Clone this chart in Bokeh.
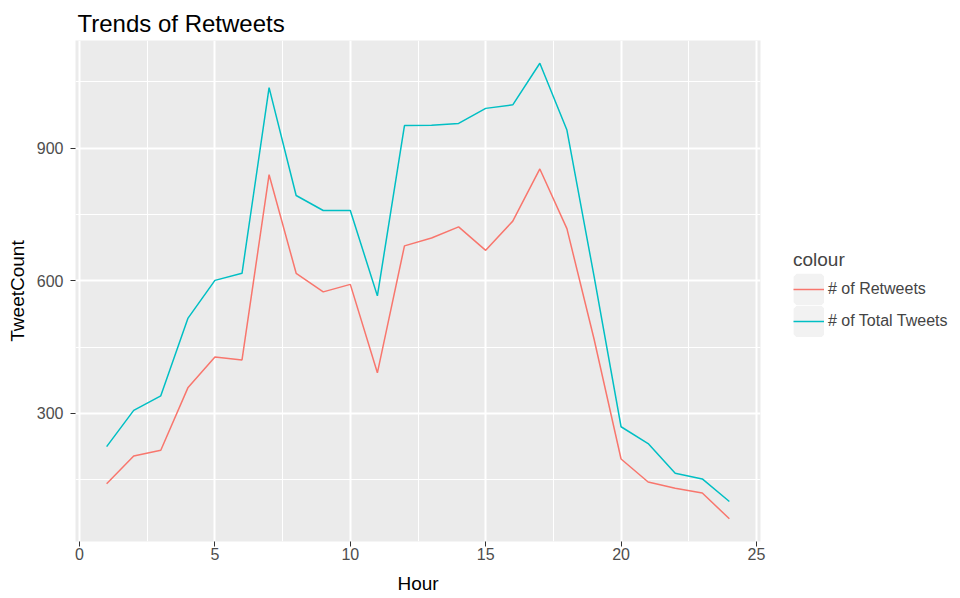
import numpy as np
from bokeh.plotting import figure
from bokeh.models import Range1d, FixedTicker, Legend, LegendItem, ColumnDataSource
from bokeh.embed import file_html
from bokeh.resources import INLINE

# ---- data ----
hours = list(range(1, 25))
retweets = [141, 204, 217, 358, 428, 421, 840, 617, 575, 592, 392, 679,
            697, 722, 669, 735, 853, 718, 469, 197, 145, 131, 120, 62]
total_tweets = [225, 307, 340, 515, 601, 617, 1037, 793, 759, 759, 566, 951,
                952, 956, 990, 998, 1092, 941, 611, 270, 232, 165, 152, 101]
series_names = ["# of Retweets", "# of Total Tweets"]
series_colors = ["#F8766D", "#00BFC4"]
x_ticks = [0, 5, 10, 15, 20, 25]
x_minor = [2.5, 7.5, 12.5, 17.5, 22.5]
y_ticks = [300, 600, 900]
y_minor = [150, 450, 750, 1050]

FONT = "Liberation Sans"


def expand(lo, hi, f=0.05):
    r = hi - lo
    return lo - f * r, hi + f * r


x0, x1 = expand(min(hours), max(hours))
allv = retweets + total_tweets
y0, y1 = expand(min(allv), max(allv))

FW, FH = 685, 501
p = figure(frame_width=FW, frame_height=FH, output_backend="svg", toolbar_location=None,
           x_range=Range1d(x0, x1), y_range=Range1d(y0, y1),
           min_border_left=75, min_border_right=200, min_border_top=40,
           min_border_bottom=57)

p.background_fill_color = "#EBEBEB"
p.border_fill_color = "white"
p.outline_line_color = None

p.title.text = "Trends of Retweets"
p.title.text_font = FONT
p.title.text_font_size = "24px"
p.title.text_font_style = "normal"
p.title.text_color = "black"
p.title.align = "left"
p.title.offset = 2
p.title.standoff = 8

p.xaxis.ticker = FixedTicker(ticks=x_ticks, minor_ticks=x_minor)
p.yaxis.ticker = FixedTicker(ticks=y_ticks, minor_ticks=y_minor)
p.xaxis.axis_label = "Hour"
p.yaxis.axis_label = "TweetCount"
for ax in (p.xaxis, p.yaxis):
    ax.axis_line_color = None
    ax.major_tick_line_color = "#333333"
    ax.major_tick_out = 5
    ax.major_tick_in = 0
    ax.minor_tick_line_color = None
    ax.major_label_text_font = FONT
    ax.major_label_text_font_size = "16px"
    ax.major_label_text_color = "#4D4D4D"
    ax.axis_label_text_font = FONT
    ax.axis_label_text_font_size = "19px"
    ax.axis_label_text_font_style = "normal"
    ax.axis_label_text_color = "black"
p.yaxis.major_label_standoff = 7
p.yaxis.axis_label_standoff = 6
p.xaxis.major_label_standoff = 1
p.xaxis.axis_label_standoff = 10

for g in (p.xgrid, p.ygrid):
    g.grid_line_color = "white"
    g.grid_line_width = 2
    g.minor_grid_line_color = "white"
    g.minor_grid_line_width = 1

# legend key background (not drawn in the plot: NaN position)
key_src = ColumnDataSource(dict(x=np.array([np.nan]), y=np.array([np.nan])))
key_bg = p.rect(x="x", y="y", width=1, height=1, source=key_src,
                fill_color="#F2F2F2", line_color="#F2F2F2", line_width=6)

r1 = p.line(hours, retweets, line_color=series_colors[0], line_width=1.5)
r2 = p.line(hours, total_tweets, line_color=series_colors[1], line_width=1.5)

PAD = 13
legend = Legend(items=[LegendItem(label=series_names[0], renderers=[key_bg, r1]),
                       LegendItem(label=series_names[1], renderers=[key_bg, r2])],
                location=(33 - PAD, 204 - PAD), title="colour",
                glyph_width=31, glyph_height=32, spacing=0, label_standoff=4,
                label_height=32, padding=PAD, margin=0,
                background_fill_alpha=0, border_line_alpha=0,
                label_text_font=FONT, label_text_font_size="16px",
                title_text_font=FONT, title_text_font_size="19px",
                title_text_font_style="normal", title_standoff=2)
p.add_layout(legend, "right")

open("out.html", "w").write(file_html(p, INLINE))
